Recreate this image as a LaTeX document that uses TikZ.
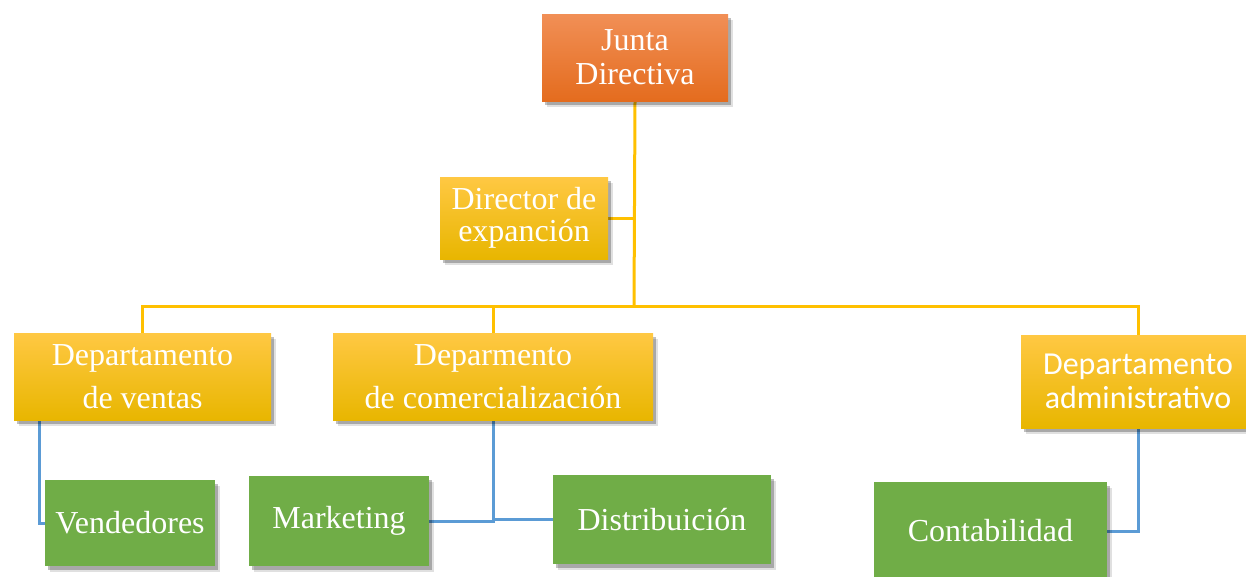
\documentclass[tikz,border=0pt]{standalone}
\usepackage{fontspec}
\setmainfont{Liberation Serif}
\newfontfamily\calibrifont{Carlito}
\usepackage{xcolor}
\definecolor{orangetop}{RGB}{241, 143, 86}
\definecolor{orangebot}{RGB}{228, 108, 30}
\definecolor{goldtop}{RGB}{255, 200, 67}
\definecolor{goldmid}{RGB}{255, 192, 0}
\definecolor{goldbot}{RGB}{232, 182, 0}
\definecolor{leafgreen}{RGB}{112, 173, 71}
\definecolor{skyblue}{RGB}{91, 155, 213}
\usetikzlibrary{shadows,backgrounds,calc}

\begin{document}
\begin{tikzpicture}[
  x=1pt, y=-1pt,
  orgbox/.style={inner sep=2pt, align=center, text=white, font=\fontsize{32}{34}\selectfont,
    drop shadow={shadow xshift=5pt, shadow yshift=-6pt, opacity=0.12, fill=black},
    drop shadow={shadow xshift=3pt, shadow yshift=-4pt, opacity=0.25, fill=black}},
  juntabox/.style={orgbox, top color=orangetop, bottom color=orangebot},
  deptbox/.style={orgbox, top color=goldtop, middle color=goldmid, bottom color=goldbot},
  unitbox/.style={orgbox, fill=leafgreen},
  yline/.style={draw=goldmid, line width=3pt},
  bline/.style={draw=skyblue, line width=3pt}
]
\useasboundingbox (0,0) rectangle (1246,576);

\node[juntabox, minimum width=186pt, minimum height=87pt] (junta) at (635,57.5) {Junta\\Directiva};
\node[deptbox, minimum width=168pt, minimum height=82pt, font=\fontsize{32}{32}\selectfont] (director) at (524,218) {Director de\\expanción};
\node[deptbox, minimum width=257pt, minimum height=87pt, font=\fontsize{32}{43}\selectfont] (ventas) at (142.5,376.5) {Departamento\\de ventas};
\node[deptbox, minimum width=320pt, minimum height=87pt, font=\fontsize{32}{43}\selectfont] (comerc) at (493,376.5) {Deparmento\\de comercialización};
\node[deptbox, minimum width=234pt, minimum height=93pt, font=\calibrifont\fontsize{32}{34}\selectfont] (admin) at (1138,381.5) {Departamento\\administrativo};

\node[unitbox, minimum width=170pt, minimum height=86pt] (vendedores) at (130,523) {Vendedores};
\node[unitbox, minimum width=180pt, minimum height=90pt] (marketing) at (339,521) {Marketing};
\node[unitbox, minimum width=218pt, minimum height=89pt] (distrib) at (662,519.5) {Distribuición};
\node[unitbox, minimum width=233pt, minimum height=98pt] (contab) at (990.5,531) {Contabilidad};

\coordinate (bus) at (634,306);

\begin{scope}[on background layer]
\draw[yline] (junta.south) -- (bus);
\draw[yline] (director.east) -- (director.east -| bus);
\draw[yline] (ventas.north) |- (bus);
\draw[yline] (comerc.north) -- (comerc.north |- bus);
\draw[yline] (bus) -| (admin.north);

\draw[bline] ([xshift=26pt]ventas.south west) |- (vendedores.west);
\draw[bline] (comerc.south) |- (marketing.east);
\draw[bline] (comerc.south) |- (distrib.west);
\draw[bline] (admin.south) |- (contab.east);
\end{scope}
\end{tikzpicture}
\end{document}
